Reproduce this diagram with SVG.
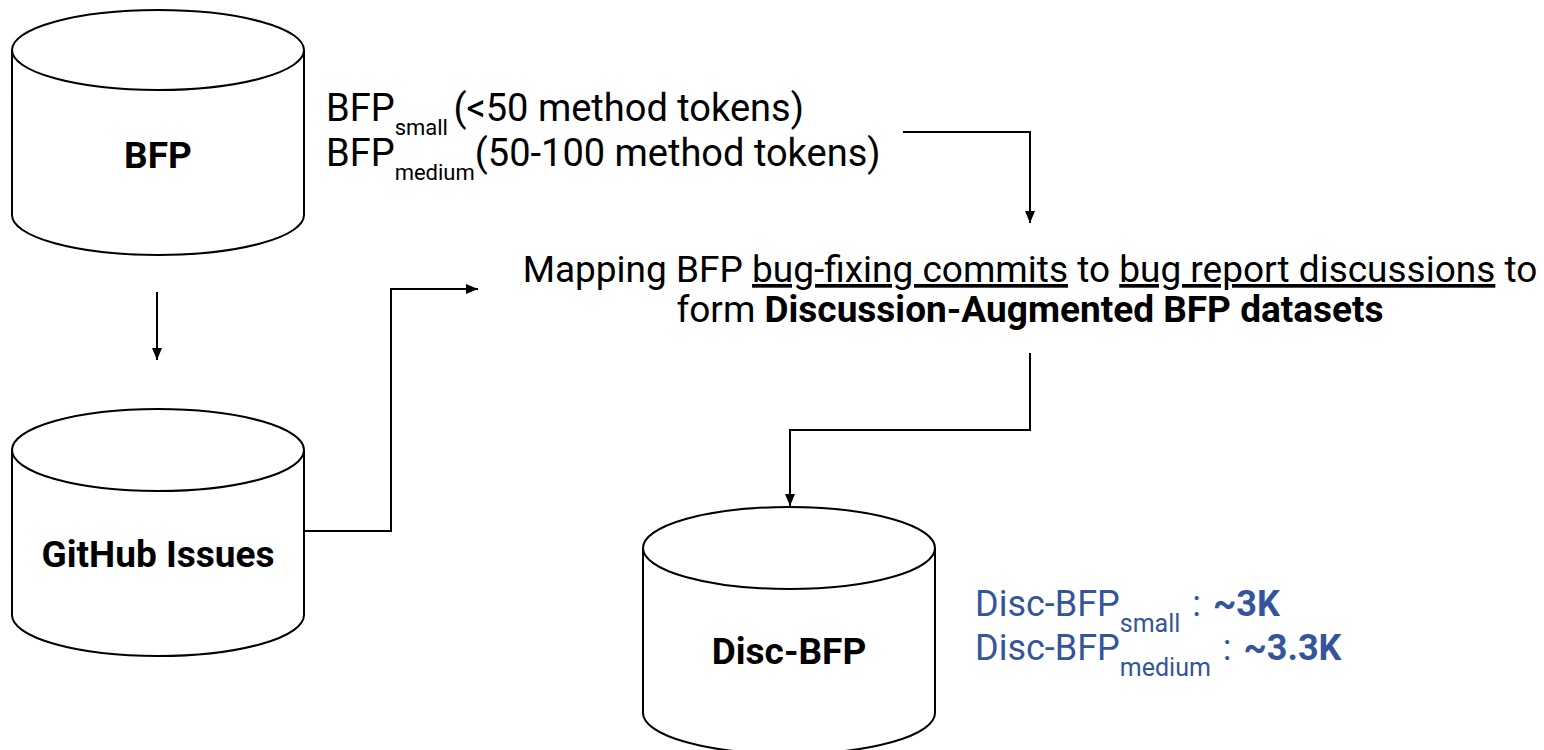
<svg xmlns="http://www.w3.org/2000/svg" width="1544" height="750" viewBox="0 0 1544 750">
<defs>
<style>
.cyl{fill:#fff;stroke:#000;stroke-width:2}
.con{fill:none;stroke:#000;stroke-width:2}
.t{font-family:Roboto,"Liberation Sans",sans-serif;fill:#000}
.b{font-weight:bold}
.blue{fill:#35559b}
.u{text-decoration:underline}
</style>
<marker id="ah" markerUnits="userSpaceOnUse" markerWidth="12" markerHeight="12" refX="12" refY="5" orient="auto">
<path d="M0,0 L12,5 L0,10 Z" fill="#000"/>
</marker>
</defs>
<rect width="1544" height="750" fill="#fff"/>

<g id="connectors">
<path class="con" d="M157,292 L157,360" marker-end="url(#ah)"/>
<path class="con" d="M304,531 L391,531 L391,289 L478,289" marker-end="url(#ah)"/>
<path class="con" d="M903,132 L1030,132 L1030,223" marker-end="url(#ah)"/>
<path class="con" d="M1030,353 L1030,430 L790,430 L790,506" marker-end="url(#ah)"/>
</g>

<g id="bfp">
<path class="cyl" d="M12,50 A146,40 0 0 1 304,50 L304,215 A146,40 0 0 1 12,215 Z"/>
<path class="cyl" d="M12,50 A146,40 0 0 0 304,50"/>
<text class="t b" x="158" y="168" font-size="37" text-anchor="middle">BFP</text>
</g>

<g id="github-issues">
<path class="cyl" d="M12,450 A146,41 0 0 1 304,450 L304,615 A146,41 0 0 1 12,615 Z"/>
<path class="cyl" d="M12,450 A146,41 0 0 0 304,450"/>
<text class="t b" x="158" y="567" font-size="37" text-anchor="middle">GitHub Issues</text>
</g>

<g id="disc-bfp">
<path class="cyl" d="M643,548 A146,41 0 0 1 935,548 L935,713 A146,41 0 0 1 643,713 Z"/>
<path class="cyl" d="M643,548 A146,41 0 0 0 935,548"/>
<text class="t b" x="789" y="664" font-size="37" text-anchor="middle">Disc-BFP</text>
</g>

<g id="bfp-subsets">
<text class="t" font-size="38"><tspan x="326" y="121">BFP</tspan><tspan font-size="22" dy="14">small </tspan><tspan dy="-14">(&lt;50 method tokens)</tspan></text>
<text class="t" font-size="38"><tspan x="326" y="166">BFP</tspan><tspan font-size="22" dy="14">medium</tspan><tspan dy="-14">(50-100 method tokens)</tspan></text>
</g>

<g id="mapping">
<text class="t" font-size="37" x="1030" y="282" text-anchor="middle">Mapping BFP <tspan class="u">bug-fixing commits</tspan> to <tspan class="u">bug report discussions</tspan> to</text>
<text class="t" font-size="37" x="1030" y="322" text-anchor="middle">form <tspan class="b">Discussion-Augmented BFP datasets</tspan></text>
</g>

<g id="disc-bfp-stats">
<text class="t blue" font-size="36"><tspan x="975" y="616">Disc-BFP</tspan><tspan font-size="25" dy="16">small</tspan><tspan dy="-16" dx="3"> : </tspan><tspan class="b" dx="3">~3K</tspan></text>
<text class="t blue" font-size="36"><tspan x="975" y="660">Disc-BFP</tspan><tspan font-size="25" dy="16">medium</tspan><tspan dy="-16" dx="3"> : </tspan><tspan class="b" dx="3">~3.3K</tspan></text>
</g>
</svg>
